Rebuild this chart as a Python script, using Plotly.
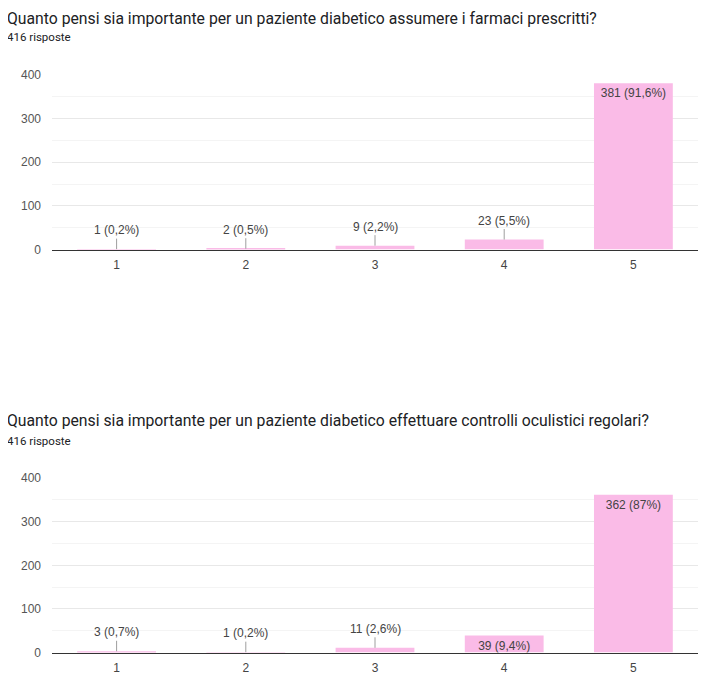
import plotly.graph_objects as go

# page body keeps an 8px margin, so the figure is 16px smaller
PAGE_W, PAGE_H = 712, 683
OFF = 8
W, H = PAGE_W - 2 * OFF, PAGE_H - 2 * OFF

categories = ["1", "2", "3", "4", "5"]

q1_title = "Quanto pensi sia importante per un paziente diabetico assumere i farmaci prescritti?"
q1_counts = [1, 2, 9, 23, 381]
q1_pct = ["0,2%", "0,5%", "2,2%", "5,5%", "91,6%"]

q2_title = "Quanto pensi sia importante per un paziente diabetico effettuare controlli oculistici regolari?"
q2_counts = [3, 1, 11, 39, 362]
q2_pct = ["0,7%", "0,2%", "2,6%", "9,4%", "87%"]

responses_label = "416 risposte"
y_ticks = [0, 100, 200, 300, 400]

BAR_COLOR = "#fabbe7"
TEXT_COLOR = "#444444"
TITLE_FONT = "Roboto, Arial, sans-serif"
FONT = "Arial, Liberation Sans, sans-serif"


def px_x(x):
    return (x - OFF) / W


def px_y(y):
    # wanted pixel from the top of the page -> paper fraction
    # (small empirical fix for how the page ends up on screen)
    y = (y - 6.5) / 0.98
    return (H - (y - OFF)) / H


fig = go.Figure()

panels = [
    # title, counts, pct, axis suffix, title y, subtitle y, plot top/bottom (px)
    (q1_title, q1_counts, q1_pct, "", 18, 37, 75, 251.7),
    (q2_title, q2_counts, q2_pct, "2", 425, 445, 483, 659.5),
]

annotations = []
for title, counts, pct, sfx, ty, sy, top, bottom in panels:
    labels = [f"{c} ({p})" for c, p in zip(counts, pct)]
    inside = [c >= 30 for c in counts]

    fig.add_trace(go.Bar(
        x=categories,
        y=counts,
        xaxis="x" + sfx,
        yaxis="y" + sfx,
        marker_color=BAR_COLOR,
        marker_line_width=0,
        text=[l if ins else "" for l, ins in zip(labels, inside)],
        textposition=["inside" if ins else "none" for ins in inside],
        insidetextanchor="end",
        constraintext="none",
        textfont=dict(family=FONT, size=12, color=TEXT_COLOR),
        hoverinfo="skip",
        showlegend=False,
    ))

    # small bars get a label above with a leader line
    for i, (c, l, ins) in enumerate(zip(counts, labels, inside)):
        if ins:
            continue
        annotations.append(dict(
            x=i, y=c, xref="x" + sfx, yref="y" + sfx,
            text=l, showarrow=True, arrowhead=0, arrowwidth=1,
            arrowcolor="#9e9e9e", ax=0, ay=-19, standoff=0,
            font=dict(family=FONT, size=12, color=TEXT_COLOR),
        ))

    annotations.append(dict(
        x=px_x(5), y=px_y(ty), xref="paper", yref="paper",
        xanchor="left", yanchor="middle", showarrow=False, text=title,
        font=dict(family=TITLE_FONT, size=15.75, color="#202124"),
    ))
    annotations.append(dict(
        x=px_x(5), y=px_y(sy), xref="paper", yref="paper",
        xanchor="left", yanchor="middle", showarrow=False, text=responses_label,
        font=dict(family=TITLE_FONT, size=11.5, color="#202124"),
    ))

    xa = dict(
        domain=[px_x(52), px_x(698)],
        type="category",
        anchor="y" + sfx,
        showgrid=False,
        showline=True,
        linecolor="#333333",
        linewidth=1.3,
        ticks="",
        ticklabelstandoff=4,
        tickfont=dict(family=FONT, size=12, color=TEXT_COLOR),
        fixedrange=True,
    )
    ya = dict(
        domain=[px_y(bottom), px_y(top)],
        range=[0, 400],
        anchor="x" + sfx,
        tickvals=y_ticks,
        showgrid=True,
        gridcolor="#e8e8e8",
        gridwidth=1,
        minor=dict(dtick=50, showgrid=True, gridcolor="#f4f4f4", gridwidth=1),
        zeroline=False,
        showline=False,
        ticks="",
        ticklabelstandoff=10,
        tickfont=dict(family=FONT, size=12, color="#555555"),
        fixedrange=True,
    )
    fig.update_layout({"xaxis" + sfx: xa, "yaxis" + sfx: ya})

fig.update_layout(
    width=W,
    height=H,
    margin=dict(l=0, r=0, t=0, b=0),
    paper_bgcolor="white",
    plot_bgcolor="white",
    bargap=0.39,
    annotations=annotations,
    font=dict(family=FONT),
)

fig.write_html("out.html")
